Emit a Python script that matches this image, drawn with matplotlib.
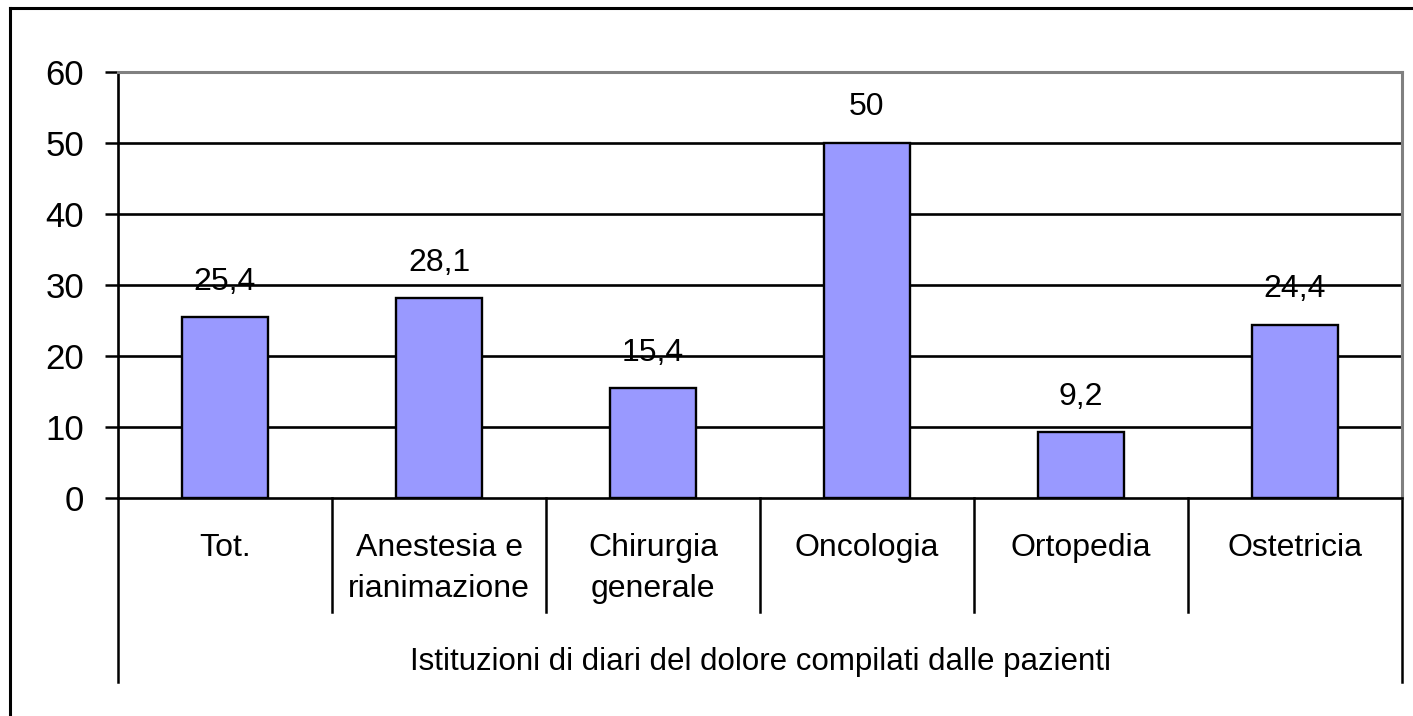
import matplotlib
matplotlib.use("Agg")
import matplotlib.pyplot as plt
from matplotlib.lines import Line2D
import matplotlib.transforms as mtransforms

categories = ["Tot.", "Anestesia e\nrianimazione", "Chirurgia\ngenerale",
              "Oncologia", "Ortopedia", "Ostetricia"]
values = [25.4, 28.1, 15.4, 50, 9.2, 24.4]
value_labels = ["25,4", "28,1", "15,4", "50", "9,2", "24,4"]
group_label = "Istituzioni di diari del dolore compilati dalle pazienti"
yticks = [0, 10, 20, 30, 40, 50, 60]

plt.rcParams['font.family'] = ['Liberation Sans', 'DejaVu Sans']

W, H = 1413, 716
fig = plt.figure(figsize=(W / 100, H / 100), dpi=100)
# plot area in pixels
x0, x1, y0, y1 = 118, 1402, 72, 497.7
ax = fig.add_axes([x0 / W, 1 - y1 / H, (x1 - x0) / W, (y1 - y0) / H])

xs = list(range(len(values)))
ax.bar(xs, values, width=0.4, color='#9999ff', edgecolor='black',
       linewidth=1.7, zorder=3)
ax.set_xlim(-0.5, len(values) - 0.5)
ax.set_ylim(0, 60)
ax.set_yticks(yticks)
ax.set_yticklabels([str(v) for v in yticks], fontsize=25)
ax.tick_params(axis='y', length=9.4, width=1.8, pad=15)
ax.set_xticks([])

for v in yticks[1:-1]:
    ax.axhline(v, color='black', linewidth=1.9, zorder=1)

for s in ['top', 'right']:
    ax.spines[s].set_color('#808080')
    ax.spines[s].set_linewidth(2.2)
for s in ['left', 'bottom']:
    ax.spines[s].set_color('black')
    ax.spines[s].set_linewidth(1.9)

trans = mtransforms.blended_transform_factory(ax.transData, ax.transAxes)

# value labels
for x, v, lab in zip(xs, values, value_labels):
    ax.annotate(lab, (x, v), xytext=(0, 20), textcoords='offset points',
                ha='center', va='baseline', fontsize=23)

# category separators
for i in range(1, len(values)):
    ax.add_line(Line2D([i - 0.5, i - 0.5], [0, -0.268], transform=trans,
                       color='black', linewidth=1.8, clip_on=False))
for xe in [-0.5, len(values) - 0.5]:
    ax.add_line(Line2D([xe, xe], [0, -0.433], transform=trans,
                       color='black', linewidth=1.8, clip_on=False))

# category labels
for x, lab in zip(xs, categories):
    ax.text(x, -0.082, lab, transform=trans, ha='center', va='top',
            fontsize=23, linespacing=1.5)

ax.text(0.5, -0.405, group_label, transform=ax.transAxes, ha='center',
        va='baseline', fontsize=22.5)

# outer chart border (left and top visible)
fig.add_artist(Line2D([10 / W, 10 / W], [0, 1 - 8 / H], color='black',
                      linewidth=2.2))
fig.add_artist(Line2D([10 / W, 1], [1 - 8 / H, 1 - 8 / H], color='black',
                      linewidth=2.2))

fig.savefig("out.png", dpi=100)
